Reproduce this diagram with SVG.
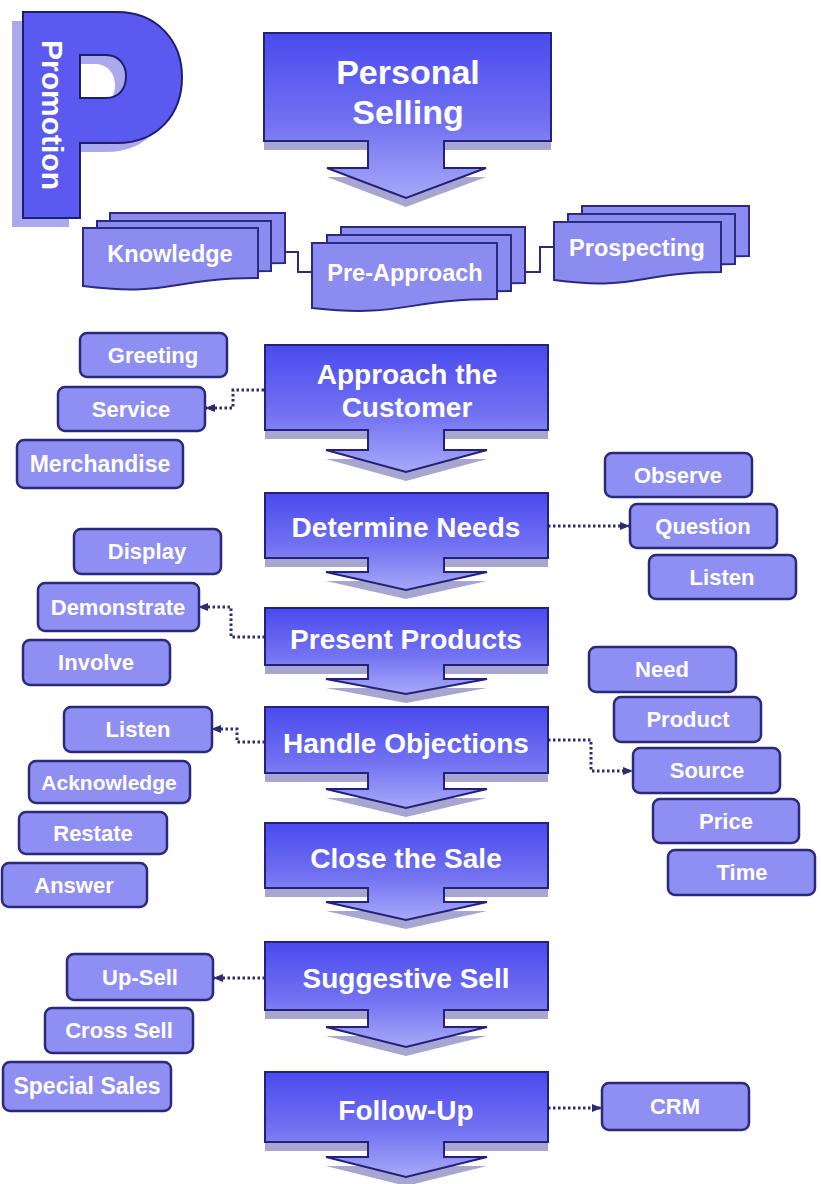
<svg xmlns="http://www.w3.org/2000/svg" width="821" height="1184" viewBox="0 0 821 1184">
<defs>
<linearGradient id="sg" x1="0" y1="0" x2="0" y2="1">
<stop offset="0" stop-color="#4a4aee"/>
<stop offset="0.55" stop-color="#7272f2"/>
<stop offset="1" stop-color="#a8a8f8"/>
</linearGradient>
<marker id="ah" markerUnits="userSpaceOnUse" markerWidth="10" markerHeight="10" viewBox="0 0 10 10" refX="9" refY="5" orient="auto">
<path d="M0,1 L10,5 L0,9 Z" fill="#2c2c70"/>
</marker>
<style>
.stage{fill:url(#sg);stroke:#22227a;stroke-width:2;stroke-linejoin:miter}
.shadow{fill:#a6a6d0}
.st{font-family:"Liberation Sans",Arial,sans-serif;font-weight:bold;font-size:28px;fill:#ffffff;text-anchor:middle;dominant-baseline:central}
.box{fill:#8e8ef3;stroke:#2a2a7a;stroke-width:2.5}
.bt{font-family:"Liberation Sans",Arial,sans-serif;font-weight:bold;font-size:22px;fill:#ffffff;text-anchor:middle;dominant-baseline:central}
.doc{fill:#8c8cf0;stroke:#2a2a80;stroke-width:2}
.dt{font-family:"Liberation Sans",Arial,sans-serif;font-weight:bold;font-size:23.5px;fill:#ffffff;text-anchor:middle;dominant-baseline:central}
.dot{fill:none;stroke:#2c2c70;stroke-width:3;stroke-dasharray:2.5 2.5}
.solid{fill:none;stroke:#2a2a80;stroke-width:2}
</style>
</defs>

<g id="promotion">
<path d="M23,12 H117 C158,12 182,42 182,77 C182,114 158,143 117,143 H80 V218 H23 Z M80,55 H106 C119,55 126,65 126,76 C126,89 119,98 106,98 H80 Z" fill="#a9a9ec" fill-rule="evenodd" transform="translate(-11,9)"/>
<path d="M23,12 H117 C158,12 182,42 182,77 C182,114 158,143 117,143 H80 V218 H23 Z M80,55 H106 C119,55 126,65 126,76 C126,89 119,98 106,98 H80 Z" fill="#5a5af0" stroke="#1e1e6e" stroke-width="2" fill-rule="evenodd"/>
<text x="52" y="115" transform="rotate(90 52 115)" font-family="Liberation Sans, Arial, sans-serif" font-weight="bold" font-size="30" fill="#ffffff" text-anchor="middle" dominant-baseline="central">Promotion</text>
</g>

<g id="connectors">
<path class="solid" d="M285,252 H298 V272 H312"/>
<path class="solid" d="M525,272 H540 V247 H554"/>
<path class="dot" d="M264,390 H233 V408 H206" marker-end="url(#ah)"/>
<path class="dot" d="M548,526 H629" marker-end="url(#ah)"/>
<path class="dot" d="M265,637 H231 V607 H199" marker-end="url(#ah)"/>
<path class="dot" d="M265,742 H237 V729 H212" marker-end="url(#ah)"/>
<path class="dot" d="M548,740 H591 V771 H632" marker-end="url(#ah)"/>
<path class="dot" d="M265,978 H214" marker-end="url(#ah)"/>
<path class="dot" d="M548,1108 H601" marker-end="url(#ah)"/>
</g>

<g id="personal-selling">
<path class="shadow" transform="translate(0,9)" d="M264,33 H551 V141 H444 V168 H486 L406,198 L327,168 H368 V141 H264 Z"/>
<path class="stage" d="M264,33 H551 V141 H444 V168 H486 L406,198 L327,168 H368 V141 H264 Z"/>
<text class="st" x="408" y="72" style="font-size:34px">Personal</text>
<text class="st" x="408" y="112" style="font-size:34px">Selling</text>
</g>

<g id="knowledge">
<path class="doc" d="M110,213 H285 V263 C197,263 197,282 110,271 Z"/>
<path class="doc" d="M97,221 H271 V271 C184,271 184,290 97,279 Z"/>
<path class="doc" d="M83,228 H258 V278 C170,278 170,297 83,286 Z"/>
<text class="dt" x="170" y="254">Knowledge</text>
</g>

<g id="pre-approach">
<path class="doc" d="M341,227 H525 V283 C433,283 433,302 341,292 Z"/>
<path class="doc" d="M327,235 H511 V291 C419,291 419,310 327,300 Z"/>
<path class="doc" d="M312,243 H497 V299 C404,299 404,318 312,308 Z"/>
<text class="dt" x="405" y="273">Pre-Approach</text>
</g>

<g id="prospecting">
<path class="doc" d="M582,206 H749 V256 C665,256 665,275 582,264 Z"/>
<path class="doc" d="M568,214 H735 V264 C651,264 651,283 568,272 Z"/>
<path class="doc" d="M554,222 H721 V272 C637,272 637,291 554,280 Z"/>
<text class="dt" x="637" y="248">Prospecting</text>
</g>

<g id="approach">
<path class="shadow" transform="translate(0,9)" d="M265,345 H548 V430 H444 V450 H487 L406,472 L326,450 H368 V430 H265 Z"/>
<path class="stage" d="M265,345 H548 V430 H444 V450 H487 L406,472 L326,450 H368 V430 H265 Z"/>
<text class="st" x="407" y="374">Approach the</text>
<text class="st" x="407" y="407">Customer</text>
</g>

<g id="determine-needs">
<path class="shadow" transform="translate(0,9)" d="M265,493 H548 V558 H444 V572 H487 L406,590 L326,572 H368 V558 H265 Z"/>
<path class="stage" d="M265,493 H548 V558 H444 V572 H487 L406,590 L326,572 H368 V558 H265 Z"/>
<text class="st" x="406" y="527">Determine Needs</text>
</g>

<g id="present-products">
<path class="shadow" transform="translate(0,9)" d="M265,608 H548 V665 H444 V679 H487 L406,694 L326,679 H368 V665 H265 Z"/>
<path class="stage" d="M265,608 H548 V665 H444 V679 H487 L406,694 L326,679 H368 V665 H265 Z"/>
<text class="st" x="406" y="639">Present Products</text>
</g>

<g id="handle-objections">
<path class="shadow" transform="translate(0,9)" d="M265,707 H548 V773 H444 V789 H487 L406,808 L326,789 H368 V773 H265 Z"/>
<path class="stage" d="M265,707 H548 V773 H444 V789 H487 L406,808 L326,789 H368 V773 H265 Z"/>
<text class="st" x="406" y="743">Handle Objections</text>
</g>

<g id="close-sale">
<path class="shadow" transform="translate(0,9)" d="M265,823 H548 V888 H444 V902 H487 L406,920 L326,902 H368 V888 H265 Z"/>
<path class="stage" d="M265,823 H548 V888 H444 V902 H487 L406,920 L326,902 H368 V888 H265 Z"/>
<text class="st" x="406" y="858">Close the Sale</text>
</g>

<g id="suggestive-sell">
<path class="shadow" transform="translate(0,9)" d="M265,942 H548 V1010 H444 V1027 H487 L406,1047 L326,1027 H368 V1010 H265 Z"/>
<path class="stage" d="M265,942 H548 V1010 H444 V1027 H487 L406,1047 L326,1027 H368 V1010 H265 Z"/>
<text class="st" x="406" y="978">Suggestive Sell</text>
</g>

<g id="follow-up">
<path class="shadow" transform="translate(0,9)" d="M265,1072 H548 V1142 H444 V1157 H487 L406,1177 L326,1157 H368 V1142 H265 Z"/>
<path class="stage" d="M265,1072 H548 V1142 H444 V1157 H487 L406,1177 L326,1157 H368 V1142 H265 Z"/>
<text class="st" x="406" y="1110">Follow-Up</text>
</g>

<g id="greeting"><rect class="box" x="80" y="333" width="147" height="44" rx="7"/><text class="bt" x="153" y="355">Greeting</text></g>
<g id="service"><rect class="box" x="58" y="387" width="147" height="44" rx="7"/><text class="bt" x="131" y="409">Service</text></g>
<g id="merchandise"><rect class="box" x="17" y="440" width="166" height="48" rx="7"/><text class="bt" x="100" y="464" style="font-size:23px">Merchandise</text></g>

<g id="observe"><rect class="box" x="605" y="453" width="147" height="44" rx="7"/><text class="bt" x="678" y="475">Observe</text></g>
<g id="question"><rect class="box" x="630" y="504" width="147" height="44" rx="7"/><text class="bt" x="703" y="526">Question</text></g>
<g id="listen-right"><rect class="box" x="649" y="555" width="147" height="44" rx="7"/><text class="bt" x="722" y="577">Listen</text></g>

<g id="display"><rect class="box" x="74" y="529" width="147" height="45" rx="7"/><text class="bt" x="147" y="551">Display</text></g>
<g id="demonstrate"><rect class="box" x="38" y="583" width="161" height="48" rx="7"/><text class="bt" x="118" y="607">Demonstrate</text></g>
<g id="involve"><rect class="box" x="23" y="640" width="147" height="45" rx="7"/><text class="bt" x="96" y="662">Involve</text></g>

<g id="listen-left"><rect class="box" x="64" y="707" width="148" height="45" rx="7"/><text class="bt" x="138" y="729">Listen</text></g>
<g id="acknowledge"><rect class="box" x="29" y="761" width="161" height="42" rx="7"/><text class="bt" x="109" y="782" style="font-size:21px">Acknowledge</text></g>
<g id="restate"><rect class="box" x="19" y="812" width="148" height="42" rx="7"/><text class="bt" x="93" y="833">Restate</text></g>
<g id="answer"><rect class="box" x="2" y="863" width="145" height="44" rx="7"/><text class="bt" x="74" y="885">Answer</text></g>

<g id="need"><rect class="box" x="589" y="647" width="147" height="45" rx="7"/><text class="bt" x="662" y="669">Need</text></g>
<g id="product"><rect class="box" x="614" y="697" width="147" height="45" rx="7"/><text class="bt" x="688" y="719">Product</text></g>
<g id="source"><rect class="box" x="633" y="748" width="147" height="45" rx="7"/><text class="bt" x="707" y="770">Source</text></g>
<g id="price"><rect class="box" x="653" y="799" width="146" height="44" rx="7"/><text class="bt" x="726" y="821">Price</text></g>
<g id="time"><rect class="box" x="668" y="850" width="147" height="45" rx="7"/><text class="bt" x="742" y="872">Time</text></g>

<g id="up-sell"><rect class="box" x="67" y="954" width="146" height="46" rx="7"/><text class="bt" x="140" y="977">Up-Sell</text></g>
<g id="cross-sell"><rect class="box" x="45" y="1008" width="148" height="45" rx="7"/><text class="bt" x="119" y="1030">Cross Sell</text></g>
<g id="special-sales"><rect class="box" x="3" y="1062" width="168" height="49" rx="7"/><text class="bt" x="87" y="1086" style="font-size:23px">Special Sales</text></g>

<g id="crm"><rect class="box" x="602" y="1083" width="147" height="47" rx="7"/><text class="bt" x="675" y="1106">CRM</text></g>
</svg>
